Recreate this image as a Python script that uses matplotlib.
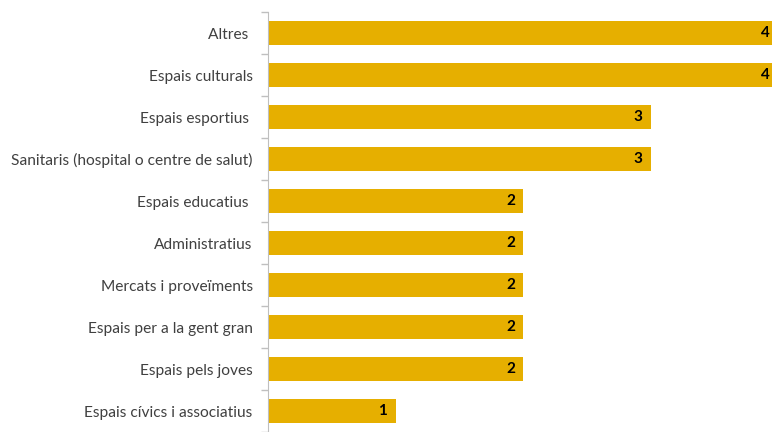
import matplotlib.pyplot as plt
import numpy as np

# Dades (alguns rètols porten un espai final, com a l'original)
categories = [
    "Altres ",
    "Espais culturals",
    "Espais esportius ",
    "Sanitaris (hospital o centre de salut)",
    "Espais educatius ",
    "Administratius",
    "Mercats i proveïments",
    "Espais per a la gent gran",
    "Espais pels joves",
    "Espais cívics i associatius",
]
values = [4, 4, 3, 3, 2, 2, 2, 2, 2, 1]

bar_color = "#E6AF00"
xmax = 3.95

fig = plt.figure(figsize=(7.72, 4.32), dpi=100)
ax = fig.add_axes([268 / 772, 0.0, 1 - 268 / 772, 1 - 12 / 432])

y = np.arange(len(categories))
ax.barh(y, values, height=0.58, color=bar_color, zorder=2)

# etiquetes de valor dins la barra
for yi, v in zip(y, values):
    ax.text(v - 0.1, yi, str(v), ha="center", va="center",
            fontsize=11, fontweight="bold", color="black", family="Lato")

ax.set_xlim(0, xmax)
ax.set_ylim(9.36, -0.505)

ax.set_yticks(y)
ax.set_yticklabels(categories, family="Lato", fontsize=11.2, color="#404040")
ax.tick_params(axis="y", which="major", length=0, pad=11)
ax.set_yticks(np.arange(-0.5, len(categories), 1), minor=True)
ax.tick_params(axis="y", which="minor", length=5, color="#BFBFBF", width=1)
ax.set_xticks([])

for s in ["top", "right", "bottom"]:
    ax.spines[s].set_visible(False)
ax.spines["left"].set_color("#BFBFBF")

fig.savefig("out.png", dpi=100)
